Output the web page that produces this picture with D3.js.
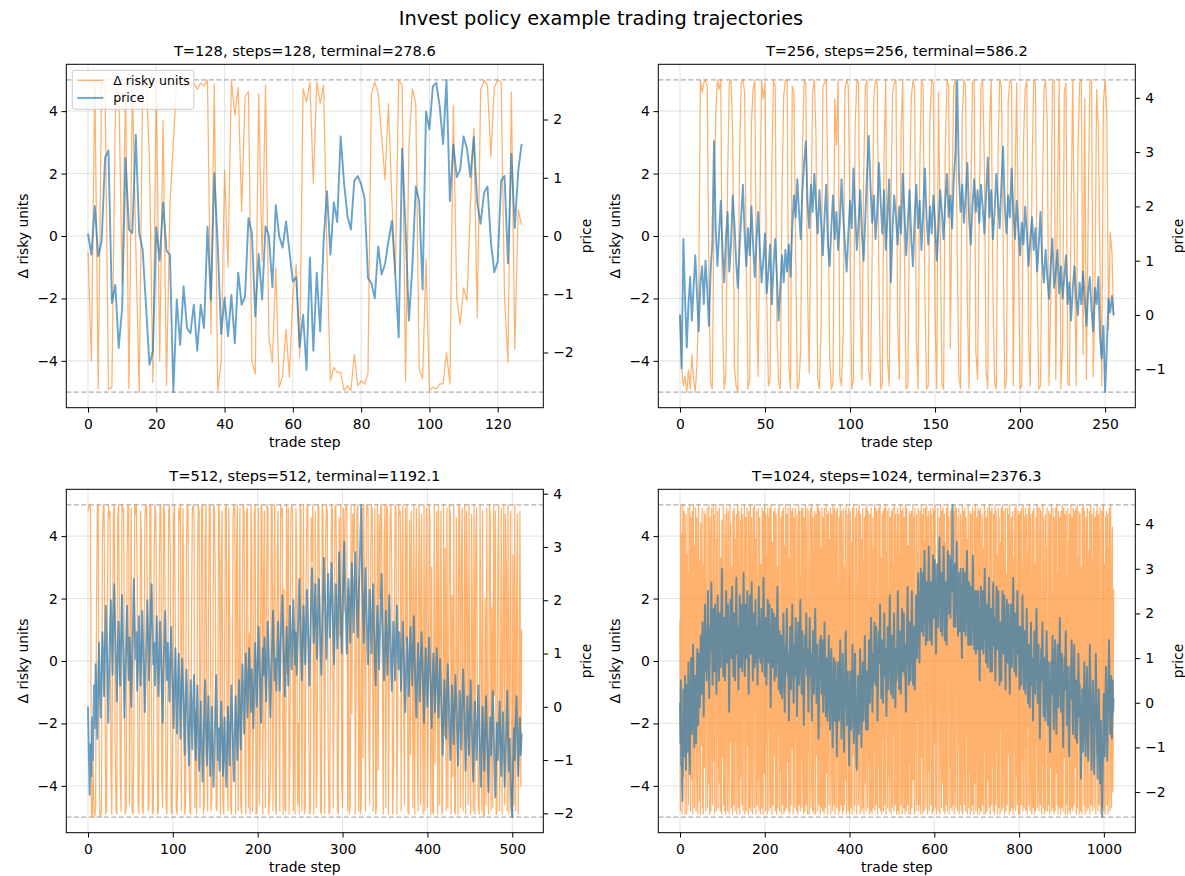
<!DOCTYPE html>
<html><head><meta charset="utf-8">
<script src="https://cdn.jsdelivr.net/npm/d3@7"></script>
<style>body{margin:0;background:#fff}svg text{font-family:"DejaVu Sans",sans-serif}</style>
</head><body><svg id="c" width="1185" height="876"></svg>
<script>
const suptitle = "Invest policy example trading trajectories";
const titles = ["T=128, steps=128, terminal=278.6","T=256, steps=256, terminal=586.2","T=512, steps=512, terminal=1192.1","T=1024, steps=1024, terminal=2376.3"];
const stepCounts = [128,256,512,1024];
const unitBounds = [-5,5];
const unitTicks = [-4,-2,0,2,4];
const xTicks1 = [0,20,40,60,80,100,120];
const xTicks2 = [0,50,100,150,200,250];
const xTicks3 = [0,100,200,300,400,500];
const xTicks4 = [0,200,400,600,800,1000];
const priceTicks1 = [-2,-1,0,1,2];
const priceTicks2 = [-1,0,1,2,3,4];
const priceTicks3 = [-2,-1,0,1,2,3,4];
const priceTicks4 = [-2,-1,0,1,2,3,4];
const legendLabels = ["Δ risky units","price"];
const xLabel = "trade step";

const p1Units = [-0.5,-4.0,5.0,-4.9,5.0,4.8,-4.9,-4.85,3.9,4.9,-1.5,4.7,-4.9,4.9,-0.3,-5.0,
4.8,5.0,2.5,-4.7,5.0,-4.0,3.7,-4.8,1.0,3.0,5.0,4.9,4.7,5.0,4.8,4.9,
4.7,4.9,4.8,5.0,-3.15,4.88,-4.95,-4.05,2.12,-1.0,5.0,3.87,4.77,0.79,4.46,4.62,
-4.0,-4.42,4.56,-0.81,4.83,-3.25,-4.05,-1.02,-4.85,-4.48,-2.99,-4.53,-1.87,-0.91,-3.89,4.72,
4.3,4.93,1.69,4.93,4.24,4.83,-0.59,-4.64,-4.21,-4.37,-4.37,-4.95,-4.8,-4.95,-3.78,-4.8,
-4.64,-4.74,-4.42,4.56,4.93,4.56,3.18,1.8,4.24,1.16,-1.23,4.99,4.83,-4.64,2.9,4.72,
4.24,-4.26,-4.58,-0.75,-4.95,-4.85,-4.9,-4.74,-4.74,-3.73,-4.74,4.19,-1.98,-2.83,-1.66,-2.08,
1.0,3.45,-2.62,4.67,4.99,4.83,2.54,4.77,5.0,4.93,-1.98,-4.05,4.62,-3.62,0.84,0.36];
const p1Price = [0.04,-0.32,0.51,-0.35,-0.09,1.34,1.47,-1.15,-0.84,-1.92,-1.24,1.34,0.11,0.05,1.74,0.05,
-0.23,-1.2,-2.21,-1.98,0.15,-0.42,0.57,-0.26,-0.32,-2.68,-1.09,-1.87,-0.86,-1.58,-1.67,-1.18,
-1.97,-1.18,-1.58,0.16,-1.1,1.08,-0.17,-1.68,-1.06,-1.72,-1.01,-1.84,-0.63,-1.18,-1.04,0.31,
0.05,-1.38,-0.31,-1.09,0.17,0.0,-0.88,0.53,0.0,-0.2,0.25,-0.26,-0.78,-0.71,-1.91,-1.35,
-2.3,-0.37,-1.97,-0.63,-1.64,-0.09,0.77,-0.32,0.58,0.24,1.71,0.91,0.34,0.11,0.95,1.03,
0.89,0.65,-0.72,-0.81,-1.07,-0.18,-0.66,-0.48,-0.09,0.26,-0.66,-1.74,1.5,0.14,-1.45,-0.52,
0.85,0.6,-0.92,2.14,1.83,2.57,2.63,2.23,1.58,2.68,0.6,1.57,1.01,1.14,1.71,1.5,
1.01,1.7,0.57,0.21,0.74,0.85,-0.09,-0.62,-0.44,0.95,1.03,-0.47,1.41,0.14,1.11,1.58];

const p2Units = [-2.5,-4.2,-4.8,-4.5,-5.0,-4.3,-4.9,-3.8,-4.6,-5.0,-4.1,-2.0,5.0,4.6,4.9,5.0,
4.8,-1.2,-4.7,-4.9,0.5,3.9,5.0,4.7,5.0,-2.8,-4.9,-4.4,1.8,4.9,5.0,3.3,
-4.2,-4.8,-5.0,2.4,4.9,5.0,4.6,-0.8,-4.9,-4.6,3.6,4.7,5.0,-2.2,-4.5,0.9,
5.0,4.4,4.9,-1.9,-4.8,-4.6,2.2,5.0,4.8,-3.0,-4.7,-4.9,1.3,4.5,5.0,5.0,
-4.2,-4.9,4.8,4.6,-0.4,-4.9,-4.7,-3.6,2.7,5.0,4.9,-1.7,-4.4,0.6,4.6,5.0,
3.2,-4.6,-4.9,-2.9,4.8,4.9,5.0,1.6,-3.8,-4.9,-4.7,4.4,2.9,5.0,-4.5,-4.8,
-3.1,4.7,5.0,4.8,0.2,-4.9,-4.6,3.5,5.0,4.9,-2.4,-4.6,1.9,4.8,5.0,-4.3,
-4.8,-0.6,4.5,5.0,4.9,-1.4,-4.9,-4.7,2.6,5.0,-3.9,-4.8,0.8,4.6,4.9,5.0,
-2.7,-4.6,3.3,5.0,-0.7,-4.9,-4.8,1.2,4.4,5.0,4.7,-3.3,-4.9,2.1,5.0,4.8,
-1.8,-4.9,-4.8,3.7,5.0,4.9,-2.5,-4.9,4.6,0.4,-4.7,-4.9,2.8,5.0,4.8,-3.6,
1.5,4.8,5.0,-0.3,-4.5,-4.9,3.9,5.0,4.8,-2.1,-4.9,1.1,4.9,5.0,-3.7,-4.6,
0.7,4.8,5.0,2.3,-4.3,-4.9,3.4,5.0,-1.6,-4.7,-4.9,2.5,5.0,4.8,0.0,-4.9,
-4.6,4.3,5.0,4.9,-4.8,1.7,4.9,-0.5,-4.9,-4.8,3.0,4.7,5.0,-3.2,-4.8,2.0,
5.0,4.9,-1.3,-4.9,-4.8,0.3,4.7,5.0,3.6,-4.8,-2.2,4.9,5.0,-4.6,1.4,5.0,
-4.9,-3.4,4.6,4.9,-4.7,-4.8,0.9,5.0,-1.0,-4.8,2.7,4.9,5.0,-3.8,4.4,-4.6,
0.5,4.9,5.0,-4.5,-2.0,4.7,3.4,-1.0,-4.8,4.3,5.0,4.0,-3.0,0.1,-0.5,-2.6];
const p2Price = [0.0,-0.98,1.4,0.3,-0.6,0.2,0.7,-0.1,0.5,1.1,0.4,-0.3,0.6,0.9,0.2,1.0,
0.5,-0.2,0.8,1.3,3.2,1.6,0.9,1.5,2.1,1.2,0.6,1.4,1.9,0.8,1.3,2.2,
1.7,1.0,0.5,1.2,1.8,2.4,1.5,0.9,1.6,1.1,2.0,1.3,0.7,1.4,1.9,1.2,
0.6,1.0,1.5,0.4,0.8,1.3,0.2,0.9,1.4,0.7,-0.1,0.5,1.1,0.6,1.2,0.8,
1.3,0.7,1.6,2.2,1.8,2.5,1.9,1.4,2.3,2.8,3.2,2.1,1.6,2.4,1.9,2.6,
2.0,1.5,2.3,1.7,1.1,1.8,2.4,1.3,0.9,1.6,2.2,1.4,1.9,1.2,1.7,2.5,
1.8,1.3,0.8,1.5,2.1,1.6,2.7,1.9,1.2,1.7,2.3,1.5,1.0,1.8,2.6,3.3,
2.4,1.7,2.2,1.4,1.9,2.8,2.1,1.5,2.3,1.2,1.8,2.5,0.6,1.6,2.2,1.8,
1.3,2.0,1.5,2.6,1.9,1.1,1.7,2.3,1.4,0.9,1.8,2.4,1.6,2.1,1.2,1.9,
2.7,1.8,1.3,2.0,1.5,2.2,1.7,1.0,1.6,2.3,1.9,1.4,2.1,2.6,1.8,2.2,
1.6,2.5,3.0,4.33,2.6,1.9,2.4,1.7,2.2,2.8,1.8,1.3,2.0,2.5,1.9,2.3,
1.7,2.4,2.0,1.5,2.2,2.9,1.8,2.3,1.4,1.9,2.6,2.1,1.6,2.4,3.1,2.0,
1.5,2.2,1.8,2.7,1.9,1.4,2.1,1.6,1.1,1.7,1.3,2.0,1.5,0.9,1.4,1.8,
1.2,1.6,0.8,1.3,1.9,1.0,0.6,1.2,0.7,0.3,0.9,1.4,0.5,0.8,1.2,0.4,
0.9,0.3,0.7,1.1,0.2,0.6,-0.1,0.5,0.9,0.3,0.0,0.6,0.2,0.8,0.3,-0.2,
0.4,0.7,0.1,-0.3,0.5,0.2,0.7,-0.4,-0.8,-0.2,-1.42,-0.6,0.3,0.05,0.35,0.0];

const p3Units = [4.8,5.0,5.0,4.9,-4.9,-5.0,-3.2,-4.8,-5.0,-4.6,1.5,4.9,5.0,-2.1,-4.9,-5.0,
-4.7,3.8,5.0,4.9,-0.6,-4.9,-4.8,2.4,5.0,4.6,4.8,-3.5,-4.9,0.8,4.7,5.0,
-2.6,-4.8,-4.9,4.5,5.0,1.9,-3.9,-4.8,5.0,4.8,4.9,-1.4,-4.9,-4.7,3.2,5.0,
4.9,-4.6,0.3,4.9,-4.8,-4.9,-2.9,5.0,4.7,5.0,2.6,-4.5,-4.9,-0.9,4.8,3.9,
-4.7,-4.9,-3.1,4.6,5.0,4.9,1.2,-4.8,-4.6,5.0,4.9,-2.3,-4.9,-4.8,3.5,5.0,
4.7,0.1,-4.9,-4.8,2.8,5.0,4.9,-3.8,-4.7,5.0,4.8,1.6,-4.6,-4.9,-1.8,4.8,
5.0,3.3,-4.8,-4.9,-2.4,4.6,5.0,0.6,-4.7,-4.9,-3.4,4.9,4.5,5.0,-4.8,2.0,
4.9,-0.7,-4.9,-4.6,3.6,5.0,4.8,-2.8,-4.8,-4.9,1.1,4.9,5.0,4.6,-4.7,-1.6,
-4.9,2.9,5.0,4.8,-4.7,-0.2,4.9,5.0,-4.9,-4.6,3.7,5.0,-3.0,-4.8,1.8,5.0,
4.9,-4.8,-4.4,-2.2,5.0,4.9,2.5,-4.7,-4.8,-1.1,5.0,4.7,-4.9,3.0,4.8,-4.6,
-4.9,0.4,4.9,5.0,-3.6,-4.8,4.9,1.4,-4.7,-4.9,-2.5,4.6,5.0,4.9,-4.9,3.4,
5.0,-4.8,-0.8,4.9,-4.6,-4.9,2.2,5.0,4.8,-3.3,-4.9,4.8,4.9,-4.7,0.9,-4.9,
5.0,3.8,-4.8,-1.9,4.7,5.0,-4.9,-4.8,1.7,4.9,-4.6,-2.7,5.0,4.9,-4.9,2.8,
4.8,-4.7,0.0,5.0,4.9,-4.9,-4.5,-3.7,4.9,5.0,-4.8,1.3,5.0,-4.6,-4.9,3.1,
4.8,-1.3,-4.8,5.0,4.6,4.9,-4.9,2.3,-4.7,-4.8,5.0,-0.4,4.9,-4.9,-3.0,4.7,
5.0,4.8,-4.8,1.0,-4.9,4.9,3.6,-4.6,-2.0,-4.9,5.0,4.8,-4.8,0.7,5.0,-4.9,
-4.7,2.6,4.9,5.0,-1.5,-4.9,-4.8,4.6,3.2,5.0,-4.9,0.5,4.8,-4.7,-3.4,5.0,
4.9,1.9,-4.8,-4.9,5.0,4.7,-0.3,-4.9,3.9,5.0,4.8,-2.6,-4.9,-4.8,2.1,5.0,
4.8,-4.7,-1.0,4.9,5.0,3.0,-4.8,-4.9,4.6,0.8,5.0,-3.9,-4.7,4.9,1.6,4.8,
5.0,4.9,-4.8,2.4,-4.9,-4.6,5.0,-1.7,4.7,3.5,5.0,-4.9,-0.5,4.8,5.0,-4.8,
2.7,-4.9,-4.7,4.9,-3.1,5.0,1.2,-4.8,4.6,5.0,4.9,-2.3,-4.6,3.3,5.0,4.8,
-4.8,0.2,4.9,-4.9,-4.7,5.0,-3.5,4.7,2.0,5.0,4.9,-1.2,-4.9,3.7,5.0,-4.7,
5.0,4.8,-4.9,-0.9,4.6,5.0,2.9,-4.9,-3.8,1.5,5.0,4.8,-4.9,-2.0,5.0,4.7,
4.8,-4.8,3.1,5.0,-1.4,-4.6,4.9,0.6,5.0,-4.8,-4.9,4.5,-3.0,4.8,2.3,-4.7,
5.0,-4.9,1.8,4.9,-2.8,-4.8,5.0,3.4,-4.6,4.7,-0.1,-4.9,5.0,-4.8,2.6,4.9,
-4.7,-1.9,5.0,4.6,-4.9,3.0,-4.8,-4.9,5.0,-3.3,0.9,4.8,-4.9,5.0,-4.6,1.4,
4.8,-4.9,-4.7,5.0,-2.4,3.6,-4.8,4.9,-4.7,-0.6,5.0,4.7,-4.9,2.1,-3.7,5.0,
-4.8,-4.9,4.6,0.4,-4.9,5.0,4.9,-4.7,3.2,4.9,-4.8,-1.6,5.0,-4.9,4.8,2.5,
-4.6,5.0,-3.0,-4.9,4.7,1.0,-4.8,5.0,-4.9,3.8,4.9,-2.2,-4.7,-4.9,5.0,0.3,
-4.8,4.8,-4.9,-5.0,2.0,-4.6,4.9,-3.4,-4.9,5.0,4.6,-4.8,1.7,-4.7,5.0,-1.1,
4.8,-4.9,-4.8,3.5,5.0,-4.8,-2.7,4.9,-4.9,0.8,5.0,-4.6,4.7,2.9,-4.8,5.0,
-4.9,-0.2,4.8,-4.7,-5.0,3.4,-4.6,5.0,-4.8,1.2,4.7,-4.9,-2.1,4.8,-4.0,1.0];
const p3Price = [0.0,-0.9,-1.65,-0.7,-1.3,-0.2,-1.0,0.4,-0.4,0.8,0.1,-0.6,0.5,1.2,0.3,-0.2,
0.6,1.4,0.9,0.2,1.1,1.9,1.3,0.5,-0.3,0.7,1.5,2.0,1.2,0.6,1.8,2.3,
1.5,0.8,0.1,0.9,1.6,1.0,0.4,1.3,2.1,1.4,0.7,-0.2,0.6,1.2,1.9,1.1,
0.5,1.3,0.8,0.0,0.7,1.5,2.4,1.6,0.9,1.4,0.3,0.8,1.7,1.1,0.4,1.0,
1.8,1.2,0.6,-0.1,0.7,1.4,2.0,1.3,0.5,1.1,1.9,2.3,1.5,0.8,1.2,0.4,
1.0,1.7,0.9,0.2,0.8,1.6,1.1,0.3,-0.3,0.6,1.3,1.8,1.0,0.5,1.2,0.7,
0.1,0.9,1.5,0.8,0.2,-0.4,0.5,1.1,0.3,-0.5,0.4,1.0,0.2,-0.6,0.3,0.9,
0.4,-0.2,-0.9,0.0,0.7,0.2,-0.6,-1.1,-0.3,0.5,-0.1,-0.8,0.1,0.6,-0.4,-1.0,
-0.3,0.4,-0.5,-1.2,-0.6,0.1,-0.7,-1.4,-0.8,-0.2,0.5,-0.4,-1.1,-0.5,0.2,-0.6,
-1.3,-0.7,0.0,-0.9,-1.5,-0.8,-0.1,0.6,-0.3,-1.0,-0.4,-1.2,-0.6,0.1,-0.5,-1.3,
-0.8,-0.2,-1.0,-1.5,-0.7,0.0,-0.6,-1.1,-0.3,0.4,-0.2,-0.9,-1.4,-0.5,0.2,-0.4,
-1.0,-0.3,0.5,-0.2,-0.8,0.1,0.8,0.2,-0.5,0.3,1.0,0.4,-0.2,0.6,1.1,0.5,
-0.1,0.7,0.2,-0.4,0.4,1.2,0.6,0.0,0.8,1.5,0.9,0.3,-0.3,0.5,1.1,0.6,
1.3,0.7,0.1,0.9,1.6,1.0,0.4,-0.2,0.6,1.2,1.8,1.1,0.5,0.9,0.3,1.0,
1.6,0.9,0.3,1.1,1.7,2.1,1.4,0.8,0.2,0.9,1.5,1.0,0.4,1.2,1.9,1.3,
0.7,1.3,2.0,1.5,0.8,1.4,0.6,1.1,1.8,2.4,1.7,1.0,0.5,1.2,1.9,1.4,
0.8,1.5,2.2,1.6,1.0,0.4,1.3,2.0,2.6,1.8,1.2,1.7,2.3,1.5,0.9,1.6,
2.4,1.8,1.1,0.6,1.4,2.1,2.8,2.2,1.5,0.9,1.7,2.5,1.9,1.3,2.0,2.7,
2.1,1.4,0.8,1.6,2.3,1.7,1.1,1.9,2.9,2.2,1.5,1.0,1.8,2.5,3.1,2.3,
1.6,1.0,1.8,2.4,1.9,1.2,2.0,2.7,2.1,1.4,2.2,2.9,2.3,1.7,1.3,2.1,
2.6,3.2,3.79,2.4,1.8,1.2,2.0,2.6,1.9,1.3,0.8,1.5,2.2,1.6,1.0,1.7,
2.3,1.5,0.9,0.4,1.2,1.9,1.4,0.7,1.3,2.0,2.5,1.6,1.0,0.5,1.1,1.8,
1.2,0.6,1.4,2.1,1.5,0.8,0.3,1.0,1.6,1.1,0.5,1.3,1.9,1.2,0.7,1.4,
0.9,0.3,1.0,1.6,1.1,0.4,-0.1,0.7,1.3,0.8,0.2,0.9,1.5,1.0,0.4,1.1,
1.7,0.9,0.3,-0.2,0.6,1.2,0.7,0.1,0.8,1.4,0.9,0.3,-0.3,0.5,1.1,0.6,
0.0,0.7,1.3,0.8,0.2,-0.4,0.4,1.0,0.5,-0.1,0.6,1.1,0.4,-0.2,0.3,0.9,
0.3,-0.3,-0.9,-0.2,0.5,0.0,-0.6,0.2,0.8,0.3,-0.4,-1.0,-0.3,0.4,-0.1,-0.7,
0.0,0.6,0.1,-0.5,-1.1,-0.4,0.3,-0.2,-0.8,0.1,0.7,0.2,-0.4,-1.2,-0.5,0.2,
-0.3,-0.9,-0.1,0.5,-0.2,-0.8,-1.4,-0.6,0.1,-0.5,-1.0,-0.3,0.4,-0.2,-0.9,-1.5,
-0.7,0.0,-0.6,-1.2,-0.5,0.2,-0.4,-1.0,-1.6,-0.8,-0.2,-0.9,-0.4,0.3,-0.3,-1.1,
-1.7,-0.9,-0.3,-1.0,-0.5,0.1,-0.6,-1.3,-0.7,-0.1,-0.8,-1.5,-1.0,-0.3,0.3,-0.5,
-1.2,-0.6,-1.4,-1.9,-2.07,-1.1,-0.4,-1.0,-0.3,0.2,-0.5,-1.3,-0.7,-0.2,-0.9,-0.5];

const p4Units = [1.3,-4.8,5.0,-2.9,4.1,-4.9,2.2,5.0,-3.7,-1.8,4.8,-0.6,-4.9,3.6,4.7,-2.4,
-4.9,3.4,-1.5,4.9,-4.6,2.8,-3.3,5.0,-0.7,-4.8,4.6,1.1,-3.8,4.8,-4.9,2.0,
5.0,-2.2,-4.7,3.7,-0.9,4.9,-4.8,1.6,4.6,-3.6,-4.9,2.9,5.0,-1.2,-4.5,3.2,
-4.9,4.4,-2.7,0.8,4.9,-4.7,3.1,-4.9,1.9,4.8,-3.4,-0.4,4.7,-4.8,2.5,-1.6,
4.9,-4.7,1.0,-3.9,5.0,2.3,-4.9,4.6,-1.5,-4.8,3.8,4.9,-2.6,-4.6,0.5,5.0,
-3.2,4.7,-4.9,2.4,-0.2,5.0,-4.8,3.9,-2.4,4.8,-4.7,1.4,-3.9,4.9,2.6,-4.8,
3.3,-1.0,-4.9,4.5,-3.1,0.7,5.0,-4.6,2.9,-4.8,4.7,-2.0,-4.9,3.5,4.9,-0.5,
-4.8,2.2,4.8,-3.5,-4.9,1.6,5.0,-2.6,4.4,-4.7,0.9,3.0,-4.9,4.8,-1.9,-4.6,
4.9,-0.3,-4.8,3.9,-2.6,4.7,-4.9,1.3,5.0,-3.0,-4.7,4.8,2.1,-4.9,-1.2,4.5,
-3.7,4.9,-4.6,0.6,4.7,-4.8,2.9,-1.9,5.0,-4.9,3.4,4.6,-4.8,-0.8,4.9,-2.7,
2.1,-4.9,4.8,-1.1,-4.7,3.6,5.0,-4.8,0.4,4.6,-3.3,-4.9,2.7,4.9,-2.0,-4.7,
5.0,-1.5,3.9,-4.9,0.9,4.8,-4.6,2.2,-3.8,4.9,-4.8,1.7,4.6,-2.9,-4.9,3.1,
-0.9,-4.7,4.9,2.6,-4.9,4.8,-1.8,-3.6,5.0,0.2,-4.8,4.7,-2.6,3.4,-4.9,4.9,
-2.2,4.6,-4.8,1.0,4.9,-3.9,-4.7,5.0,2.4,-4.9,3.8,-0.6,-4.6,4.8,-3.0,1.8,
4.9,-4.8,-1.6,4.7,-4.9,3.0,0.3,-4.7,4.9,-2.3,5.0,-4.8,1.2,-3.5,4.6,-4.9,
2.8,4.8,-4.6,-0.8,4.9,-4.9,3.7,-2.1,-4.8,5.0,1.5,-4.7,4.7,-3.2,0.6,4.9,
-4.8,3.3,-1.4,-4.9,5.0,2.0,-4.6,4.8,-2.8,0.9,4.9,-4.9,-3.6,4.6,2.4,-4.7,
4.9,-2.5,1.2,-4.8,4.7,-0.4,-4.9,3.5,5.0,-4.6,-1.9,4.8,-4.8,2.7,-3.1,4.9,
-4.7,0.5,4.9,-3.4,-4.9,4.6,2.3,-4.8,5.0,-1.3,-4.6,3.8,4.9,-4.9,0.8,-2.9,
4.8,-4.9,2.9,-0.9,4.9,-4.7,-3.7,5.0,1.7,-4.8,4.6,-2.4,-4.9,3.2,4.8,-1.0,
-4.9,4.7,0.6,-3.0,5.0,-4.8,2.6,4.9,-4.6,-1.6,4.8,-4.9,3.6,-0.2,-4.7,4.9,
1.9,-4.8,4.6,-2.7,-4.9,4.9,3.0,-4.7,-0.8,5.0,-3.6,4.7,-4.9,1.4,4.8,-2.2,
-4.6,3.9,-1.2,4.9,-4.9,0.4,4.7,-3.3,-4.8,5.0,2.1,-4.6,4.9,-2.5,-4.9,3.4,
4.8,-0.6,-4.7,4.9,-3.1,2.5,-4.9,4.6,1.1,-4.8,5.0,-2.0,-4.6,4.8,3.6,-4.9,
-1.7,4.9,-4.8,3.0,-4.6,0.9,4.8,-3.8,5.0,-4.9,2.2,-0.3,4.7,-4.8,4.9,-2.6,
-4.9,1.5,4.8,-4.7,3.8,-1.5,-4.9,4.9,-3.0,2.8,5.0,-4.8,0.3,-4.6,4.6,-3.4,
4.9,-4.9,2.4,-0.7,4.8,-4.6,-3.5,5.0,1.3,-4.9,4.7,-2.2,3.9,-4.8,-1.1,4.9,
-4.7,3.2,-4.9,4.6,0.1,-3.9,4.9,-4.8,2.6,5.0,-1.7,-4.7,4.8,-3.2,1.8,-4.9,
4.7,-2.1,-4.8,4.9,2.9,-4.9,-0.5,4.6,-4.7,3.6,-2.8,5.0,-4.8,1.0,4.9,-4.6,
-0.9,4.8,-4.9,2.0,-3.4,4.9,-4.7,0.7,5.0,-4.8,3.3,-1.4,-4.9,4.7,-2.5,4.8,
-4.8,1.7,4.9,-4.6,-2.0,5.0,-4.9,3.5,-0.4,4.8,-4.7,2.3,-3.7,4.9,-4.8,0.6,
4.6,-3.0,-4.9,4.8,1.5,-4.7,4.9,-2.3,3.1,-4.8,5.0,-0.9,-4.6,4.7,2.6,-4.9,
0.4,4.9,-4.8,-2.6,4.7,-4.9,3.4,-1.1,5.0,-4.6,2.0,4.8,-4.9,-3.5,4.9,1.2,
-4.7,4.6,-0.8,-4.9,5.0,2.9,-4.8,4.9,-2.1,-4.6,3.7,0.2,-4.9,4.8,-3.3,4.7,
-4.9,1.9,4.8,-4.7,-1.4,5.0,-3.8,4.6,2.6,-4.9,4.9,-2.9,0.8,-4.8,4.7,-4.6,
3.5,-1.9,4.9,-4.8,2.2,-4.6,4.8,-0.3,-4.9,5.0,-3.1,1.6,4.7,-4.9,-2.4,4.9,
-4.8,3.8,-0.5,4.9,-4.7,-2.7,5.0,1.2,-4.9,4.6,-3.5,4.8,-4.8,2.5,-1.3,4.9,
-4.6,4.7,2.0,-4.9,-3.2,4.9,-4.8,0.5,4.8,-2.6,5.0,-4.7,3.1,-4.9,1.4,-0.7,
4.9,-4.8,3.5,-1.8,4.6,-4.9,-2.3,5.0,0.9,-4.7,4.8,-3.9,2.4,4.9,-4.8,-1.5,
4.7,-4.9,1.1,3.8,-4.6,4.9,-2.9,-4.8,5.0,-0.6,4.6,-4.9,2.7,-3.4,4.8,-4.7,
-1.8,4.9,-4.8,3.0,-4.6,0.4,4.8,-4.9,2.3,5.0,-3.6,-4.7,4.9,-1.0,1.9,-4.8,
4.6,-2.7,4.9,-4.9,0.8,-4.6,4.7,3.3,-4.8,-1.9,5.0,-4.9,2.1,4.8,-3.0,-4.6,
4.9,0.3,-4.8,4.6,-2.4,3.9,-4.9,-0.9,5.0,-4.7,2.8,-3.6,4.8,-4.9,1.3,4.7,
-4.8,-1.6,4.9,-4.6,3.2,-4.9,4.8,0.6,-3.9,5.0,-4.8,2.2,4.6,-2.5,-4.9,4.9,
1.6,-4.7,4.8,-3.1,-4.9,4.9,2.5,-4.8,0.0,4.7,-4.6,3.6,-1.8,-4.9,5.0,-2.9,
4.8,-4.9,-0.7,4.6,-4.8,2.9,4.9,-3.8,1.2,-4.7,5.0,-2.1,-4.9,4.8,0.5,-4.6,
4.9,-3.4,2.4,-4.8,4.7,-0.9,-4.9,5.0,1.8,-4.6,4.8,-2.9,3.4,-4.9,-1.5,4.9,
-4.7,4.6,0.4,-4.9,3.8,-2.2,4.9,-4.8,1.5,5.0,-4.7,-3.3,4.8,2.6,-4.9,-0.8,
4.9,-4.8,2.8,-1.4,-4.6,4.9,-3.0,4.7,0.9,-4.9,5.0,-2.4,-4.8,3.9,4.6,-4.7,
-1.2,4.8,-4.9,3.3,-4.7,1.9,4.9,-0.2,-4.8,5.0,-3.7,2.5,-4.6,4.8,-2.0,-4.9,
4.7,2.2,-4.9,4.8,-1.3,-4.6,4.9,-3.2,3.0,-4.8,5.0,0.6,-4.7,4.6,-2.8,4.9,
-4.8,0.9,4.7,-4.9,3.5,-2.1,4.9,-4.6,-0.6,5.0,-4.8,2.3,4.7,-3.5,-4.9,1.7,
4.8,-4.7,-1.8,4.9,-4.9,3.1,0.2,-4.8,4.6,-2.6,5.0,-4.7,1.4,4.9,-3.9,-4.8,
2.7,4.9,-4.6,-0.8,4.8,-4.9,2.0,-3.3,5.0,-4.7,4.6,1.0,-4.9,-2.2,4.7,-4.8,
3.6,-1.5,4.9,-4.8,0.5,-4.6,4.8,2.9,-4.9,4.7,-3.4,-0.1,5.0,-4.8,2.2,-4.7,
4.9,-2.4,-4.9,4.6,1.6,-4.8,4.9,-3.6,0.8,5.0,-4.6,2.8,-4.9,4.8,-1.1,-4.7,
4.6,3.1,-4.9,4.8,-2.0,-4.7,5.0,0.3,-4.8,4.9,-3.1,1.7,4.7,-4.9,-0.6,4.8,
-4.6,2.6,-4.9,4.9,-1.7,3.8,-4.8,4.7,0.9,-4.9,5.0,-2.5,-4.7,4.6,1.8,-4.8,
4.9,-0.5,-4.6,4.8,-3.4,2.4,4.9,-4.9,-1.3,5.0,-4.7,3.3,-2.0,4.8,-4.9,0.7,
4.7,-4.8,3.0,-0.9,-4.9,4.9,-2.6,1.5,5.0,-4.6,4.8,-3.8,-4.9,2.1,4.6,-1.8,
-4.8,4.9,0.9,-4.7,3.5,-2.9,4.8,-4.9,2.3,5.0,-4.6,-0.7,4.7,-4.8,3.2,-1.9,
4.9,-4.7,-2.3,4.6,1.2,-4.9,4.8,-3.0,5.0,0.4,-4.8,4.7,-1.6,-4.6,3.9,4.9,
-4.9,2.0,-3.6,4.8,-4.7,0.6,4.9,5.0,-4.8,3.1,-2.3,-4.9,4.6,1.3,4.8,-4.6,
-1.0,4.7,-4.9,3.6,-2.1,4.9,-4.8,0.9,5.0,-3.3,-4.7,2.8,4.3,-4.2,-2.8,2.3];
const p4Price = [0.0,-0.9,0.5,-1.4,-0.6,-1.8,-2.2,-0.8,0.3,-0.4,-1.2,-0.2,0.6,-0.7,-1.5,-0.3,
0.4,-0.5,-1.1,0.2,0.9,-0.1,-0.8,-1.6,-0.6,0.3,1.0,0.1,-0.7,-0.2,0.7,1.3,
0.5,-0.4,-1.0,-0.3,0.6,0.0,-0.9,-0.2,0.8,1.2,0.4,-0.5,0.3,1.1,0.6,-0.1,
0.7,1.5,0.9,0.2,1.0,1.8,1.2,0.4,-0.3,0.8,1.6,2.2,1.4,0.7,1.3,0.5,
1.1,1.9,2.5,1.6,0.8,0.1,0.9,1.7,1.2,2.0,2.7,1.8,1.0,0.4,1.2,2.1,
1.5,0.7,1.4,2.2,1.6,0.9,0.2,1.0,1.8,2.4,1.7,1.1,0.5,1.3,2.0,1.4,
0.8,1.6,2.3,3.0,2.1,1.4,0.6,1.2,1.9,1.3,0.5,1.1,1.8,2.5,1.7,0.9,
1.5,2.2,1.4,0.7,-0.2,0.8,1.6,2.3,1.5,1.0,1.8,2.6,1.9,1.2,0.6,1.4,
2.0,1.3,0.5,1.2,2.1,2.8,1.9,1.1,1.7,0.9,0.3,1.0,1.8,2.4,1.6,0.8,
1.5,2.2,1.5,0.7,1.3,2.0,2.9,2.1,1.3,0.6,1.4,2.2,1.6,1.0,1.8,2.5,
1.7,0.9,0.2,1.0,1.7,2.4,1.8,1.1,1.9,2.7,2.0,1.2,0.5,1.3,2.0,1.4,
0.8,1.5,2.3,1.6,0.9,1.7,1.1,0.4,1.2,2.0,2.6,1.8,1.0,1.6,0.9,1.5,
2.1,1.4,0.7,1.3,2.0,2.8,2.1,1.3,0.6,1.2,1.9,1.1,0.4,1.1,1.8,2.3,
1.6,0.9,1.5,2.2,1.4,0.6,-0.1,0.7,1.4,2.1,1.5,0.8,1.4,2.0,1.3,0.5,
1.2,1.9,1.3,0.6,1.4,2.1,2.6,1.8,1.0,0.3,0.9,1.6,1.0,0.2,0.8,1.5,
0.9,0.1,0.7,1.4,2.0,1.3,0.5,-0.2,0.6,1.3,0.7,1.5,2.1,1.4,0.6,1.1,
0.4,-0.4,0.3,1.0,1.7,1.1,0.3,0.9,1.6,2.2,1.4,0.7,0.0,0.7,1.3,0.6,
1.2,1.9,1.3,0.5,-0.3,0.4,1.1,1.8,1.2,0.4,1.0,1.7,2.3,1.5,0.8,0.2,
0.9,1.6,1.0,0.3,-0.5,0.2,0.9,1.5,0.8,1.4,2.0,1.3,0.6,1.2,0.5,-0.2,
0.5,1.2,1.9,1.3,0.6,1.1,0.4,-0.4,0.3,1.0,1.6,0.9,0.2,0.8,1.5,2.1,
1.4,0.7,0.0,0.6,1.3,0.7,-0.1,-0.8,0.0,0.7,1.4,0.8,1.5,0.9,0.2,0.8,
1.4,0.6,-0.2,0.4,1.1,1.8,1.2,0.5,-0.3,0.3,1.0,0.4,-0.4,0.2,0.9,1.5,
0.8,0.1,-0.6,0.0,0.7,1.2,0.5,-0.2,-1.0,-0.3,0.4,1.0,0.4,-0.4,0.3,0.9,
0.2,-0.5,-1.2,-0.4,0.3,0.9,0.3,-0.4,0.2,0.8,1.4,0.7,-0.1,-0.8,-0.2,0.5,
1.1,0.4,-0.3,-1.1,-0.4,0.3,1.0,1.6,0.9,0.2,-0.5,0.1,0.7,0.1,-0.7,-1.4,
-0.6,0.1,0.7,0.1,-0.6,0.0,0.6,1.3,0.6,-0.1,-0.9,-0.2,0.5,1.1,0.4,-0.3,
-1.0,-1.5,-0.7,0.0,0.6,0.0,-0.7,-0.1,0.5,1.2,0.5,-0.2,-1.0,-0.4,0.3,0.9,
0.3,-0.4,0.2,0.8,1.5,0.8,0.1,-0.6,0.0,0.7,0.1,-0.6,0.1,0.8,1.4,0.7,
0.0,0.6,1.3,1.9,1.2,0.5,-0.2,0.5,1.1,0.5,1.2,1.8,1.1,0.4,1.0,1.7,
1.0,0.3,-0.4,0.3,1.0,1.6,0.9,1.5,2.2,1.5,0.8,0.1,0.8,1.4,0.7,0.0,
0.7,1.3,2.0,1.3,0.6,1.2,0.5,-0.3,0.4,1.1,1.7,1.0,0.3,1.0,1.7,2.4,
1.6,0.9,0.2,0.9,1.5,0.8,0.1,0.7,1.4,2.0,1.3,0.6,-0.1,0.6,1.2,0.5,
1.1,1.8,2.5,1.7,1.0,0.3,1.0,1.6,0.9,0.2,0.8,1.5,2.1,1.4,0.7,1.3,
2.0,1.3,0.6,1.3,0.5,-0.2,0.5,1.2,1.9,2.6,1.8,1.1,0.4,1.1,1.8,1.2,
0.5,1.2,1.9,2.5,1.8,1.1,0.4,1.1,1.7,1.0,0.3,1.0,1.7,2.4,1.7,1.0,
1.6,2.3,2.9,2.2,1.5,0.9,1.6,2.3,3.0,2.3,1.6,2.2,2.9,2.2,1.5,2.1,
2.8,3.4,2.7,2.0,1.3,2.0,2.7,2.1,1.4,2.1,2.8,3.5,2.8,2.1,1.4,2.0,
2.7,2.0,1.3,1.9,2.6,3.3,2.6,1.9,2.5,3.2,2.5,1.8,1.1,1.8,2.5,3.1,
2.4,1.7,2.4,3.1,3.7,3.0,2.3,1.6,2.2,2.9,2.2,1.5,2.2,2.9,3.5,2.8,
2.1,1.4,2.0,2.7,2.0,1.3,2.0,2.7,3.4,2.7,2.0,2.6,3.3,2.6,1.9,2.6,
3.2,2.5,3.3,4.43,3.1,2.4,1.7,2.4,3.1,2.4,1.7,2.3,3.0,3.6,2.9,2.2,
1.5,2.2,2.9,2.2,1.6,2.3,3.0,2.3,1.6,1.0,1.7,2.4,3.0,2.3,1.6,2.3,
2.9,2.2,1.5,2.2,2.8,3.4,2.7,2.0,1.3,2.0,2.7,2.0,1.3,1.9,2.6,2.0,
1.3,2.0,2.7,3.3,2.6,1.9,1.2,1.9,2.5,1.8,1.1,1.8,2.5,1.9,1.2,1.8,
2.5,1.8,1.1,0.5,1.2,1.9,2.6,1.9,1.2,1.9,2.5,1.8,1.1,1.8,2.5,3.0,
2.3,1.6,0.9,1.6,2.2,1.5,0.8,1.5,2.2,2.8,2.1,1.4,0.7,1.4,2.1,1.4,
0.7,1.4,2.1,2.7,2.0,1.3,1.9,1.2,0.5,1.2,1.9,2.6,1.9,1.2,1.8,2.5,
1.8,1.1,0.4,1.1,1.8,1.2,0.5,1.2,1.9,2.5,1.8,1.1,1.8,2.4,1.7,1.0,
0.3,1.0,1.7,2.3,1.6,0.9,1.6,2.2,1.5,0.8,0.2,0.9,1.6,2.2,1.5,0.8,
1.5,2.2,2.8,2.1,1.4,0.7,1.3,2.0,1.3,0.6,1.2,1.9,2.5,1.8,1.1,1.7,
1.0,0.3,1.0,1.7,1.1,0.4,1.1,1.8,2.4,1.7,1.0,0.3,0.9,1.6,0.9,0.2,
0.9,1.5,2.1,1.4,0.7,0.0,0.6,1.3,0.6,-0.1,0.5,1.2,1.8,1.1,0.4,1.0,
0.3,-0.4,0.3,1.0,1.6,0.9,0.2,0.8,1.5,2.1,1.4,0.7,0.0,0.7,1.3,0.6,
-0.1,-0.8,-0.1,0.6,1.2,0.5,1.2,1.8,1.1,0.4,-0.3,0.4,1.0,0.3,-0.4,0.3,
1.0,1.6,0.9,0.2,-0.5,0.2,0.9,0.3,-0.4,-1.1,-0.4,0.3,0.9,0.2,0.9,1.5,
0.8,0.1,-0.6,0.1,0.8,1.4,0.7,0.0,-0.7,0.0,0.6,1.3,0.6,-0.1,0.6,1.2,
1.9,1.2,0.5,-0.2,0.4,1.1,0.4,-0.3,-1.0,-0.3,0.4,1.0,0.3,1.0,1.6,0.9,
0.2,-0.5,0.2,0.8,0.1,-0.6,-1.2,-0.5,0.2,0.8,0.1,0.8,1.4,0.7,0.0,-0.7,
0.0,0.6,1.3,0.6,-0.1,-0.8,-0.1,0.5,-0.2,-0.9,-0.2,0.5,1.1,0.4,-0.3,0.4,
-0.3,-1.0,-1.7,-1.0,-0.3,0.3,-0.4,-1.1,-0.4,0.3,0.9,0.2,-0.5,-1.2,-0.5,0.2,
0.8,0.1,-0.6,-1.3,-0.6,0.0,0.7,1.3,0.6,-0.1,-0.8,-1.5,-0.8,-0.1,0.5,-0.2,
-0.9,-1.6,-0.9,-0.2,0.4,1.1,0.4,-0.3,-1.0,-1.7,-1.0,-0.3,0.3,-0.4,-1.1,-1.8,
-1.1,-0.4,-1.2,-2.0,-2.56,-1.8,-1.1,-0.4,0.2,-0.5,-1.2,-0.5,0.2,0.8,0.1,-0.6,
-1.3,-0.6,0.1,0.7,1.4,0.7,0.0,-0.7,-0.1,0.6,-0.1,-0.8,-0.2,0.5,-0.2,0.1];

const unitsSeries = [p1Units,p2Units,p3Units,p4Units];
const priceSeries = [p1Price,p2Price,p3Price,p4Price];
const xTickSets = [xTicks1,xTicks2,xTicks3,xTicks4];
const priceTickSets = [priceTicks1,priceTicks2,priceTicks3,priceTicks4];

const svg = d3.select("#c");
const W = 477, H = 343.4;
const pos = [[66.3,64.3],[658.3,64.3],[66.3,489.3],[658.3,489.3]];
const FS = 13.9, TL = 4.86;

svg.append("text").attr("x",601).attr("y",25).attr("text-anchor","middle")
  .attr("font-size",19.4).attr("fill","#000").text(suptitle);

function styleAxis(a){
  a.select(".domain").remove();
  a.attr("font-size",FS).attr("font-family","DejaVu Sans");
  a.selectAll(".tick line").attr("stroke","#000").attr("stroke-width",1);
  a.selectAll(".tick text").attr("fill","#000");
}

function panel(k){
  const [L,T] = pos[k];
  const units = unitsSeries[k], price = priceSeries[k];
  const n = stepCounts[k];
  const g = svg.append("g").attr("transform",`translate(${L},${T})`);
  const x = d3.scaleLinear().domain([-0.05*(n-1),1.05*(n-1)]).range([0,W]);
  const up = (unitBounds[1]-unitBounds[0])*0.05;
  const y = d3.scaleLinear().domain([unitBounds[0]-up,unitBounds[1]+up]).range([H,0]);
  const pe = d3.extent(price), pp = (pe[1]-pe[0])*0.05;
  const yp = d3.scaleLinear().domain([pe[0]-pp,pe[1]+pp]).range([H,0]);

  const grid = g.append("g").attr("stroke","#b0b0b0").attr("stroke-opacity",0.4).attr("stroke-width",0.9);
  grid.selectAll(".gx").data(xTickSets[k]).join("line")
    .attr("x1",d=>x(d)).attr("x2",d=>x(d)).attr("y1",0).attr("y2",H);
  grid.selectAll(".gy").data(unitTicks).join("line")
    .attr("x1",0).attr("x2",W).attr("y1",d=>y(d)).attr("y2",d=>y(d));

  g.selectAll(".bnd").data(unitBounds).join("line")
    .attr("x1",0).attr("x2",W).attr("y1",d=>y(d)).attr("y2",d=>y(d))
    .attr("stroke","#999").attr("stroke-width",1).attr("stroke-dasharray","5,2.5");

  g.append("path").datum(units)
    .attr("d",d3.line().x((d,i)=>x(i)).y(d=>y(d)))
    .attr("fill","none").attr("stroke","#ff7f0e").attr("stroke-opacity",0.6)
    .attr("stroke-width",1.25).attr("stroke-linejoin","round");
  g.append("path").datum(price)
    .attr("d",d3.line().x((d,i)=>x(i)).y(d=>yp(d)))
    .attr("fill","none").attr("stroke","#1f77b4").attr("stroke-opacity",0.68)
    .attr("stroke-width",1.9).attr("stroke-linejoin","round");

  g.append("rect").attr("width",W).attr("height",H).attr("fill","none")
    .attr("stroke","#000").attr("stroke-width",1);

  const ax = g.append("g").attr("transform",`translate(0,${H})`)
    .call(d3.axisBottom(x).tickValues(xTickSets[k]).tickSize(TL).tickPadding(6.3).tickFormat(d3.format("d")));
  styleAxis(ax);
  const ayl = g.append("g").call(d3.axisLeft(y).tickValues(unitTicks).tickSize(TL).tickPadding(3.5).tickFormat(d3.format("d")));
  styleAxis(ayl);
  const ayr = g.append("g").attr("transform",`translate(${W},0)`)
    .call(d3.axisRight(yp).tickValues(priceTickSets[k]).tickSize(TL).tickPadding(5).tickFormat(d3.format("d")));
  styleAxis(ayr);

  g.append("text").attr("x",W/2).attr("y",-8.5).attr("text-anchor","middle")
    .attr("font-size",14.6).attr("fill","#000").text(titles[k]);
  g.append("text").attr("x",W/2).attr("y",H+39).attr("text-anchor","middle")
    .attr("font-size",FS).attr("fill","#000").text(xLabel);
  g.append("text").attr("transform",`translate(-38.5,${H/2}) rotate(-90)`).attr("text-anchor","middle")
    .attr("font-size",FS).attr("fill","#000").text(legendLabels[0]);
  g.append("text").attr("transform",`translate(${W+47.5},${H/2}) rotate(-90)`).attr("text-anchor","middle")
    .attr("font-size",FS).attr("fill","#000").text(legendLabels[1]);

  if(k===0){
    const lg = g.append("g").attr("transform","translate(6,6)");
    lg.append("rect").attr("width",121.5).attr("height",39).attr("rx",2.5)
      .attr("fill","#fff").attr("fill-opacity",0.8).attr("stroke","#ccc").attr("stroke-width",1);
    const cols = [["#ff7f0e",0.6,1.25],["#1f77b4",0.68,1.9]];
    legendLabels.forEach((lab,j)=>{
      const yy = 10 + j*17.6;
      lg.append("line").attr("x1",5).attr("x2",31).attr("y1",yy).attr("y2",yy)
        .attr("stroke",cols[j][0]).attr("stroke-opacity",cols[j][1]).attr("stroke-width",cols[j][2]);
      lg.append("text").attr("x",41).attr("y",yy+4.4).attr("font-size",12.5).attr("fill","#000").text(lab);
    });
  }
}
[0,1,2,3].forEach(panel);
</script></body></html>
